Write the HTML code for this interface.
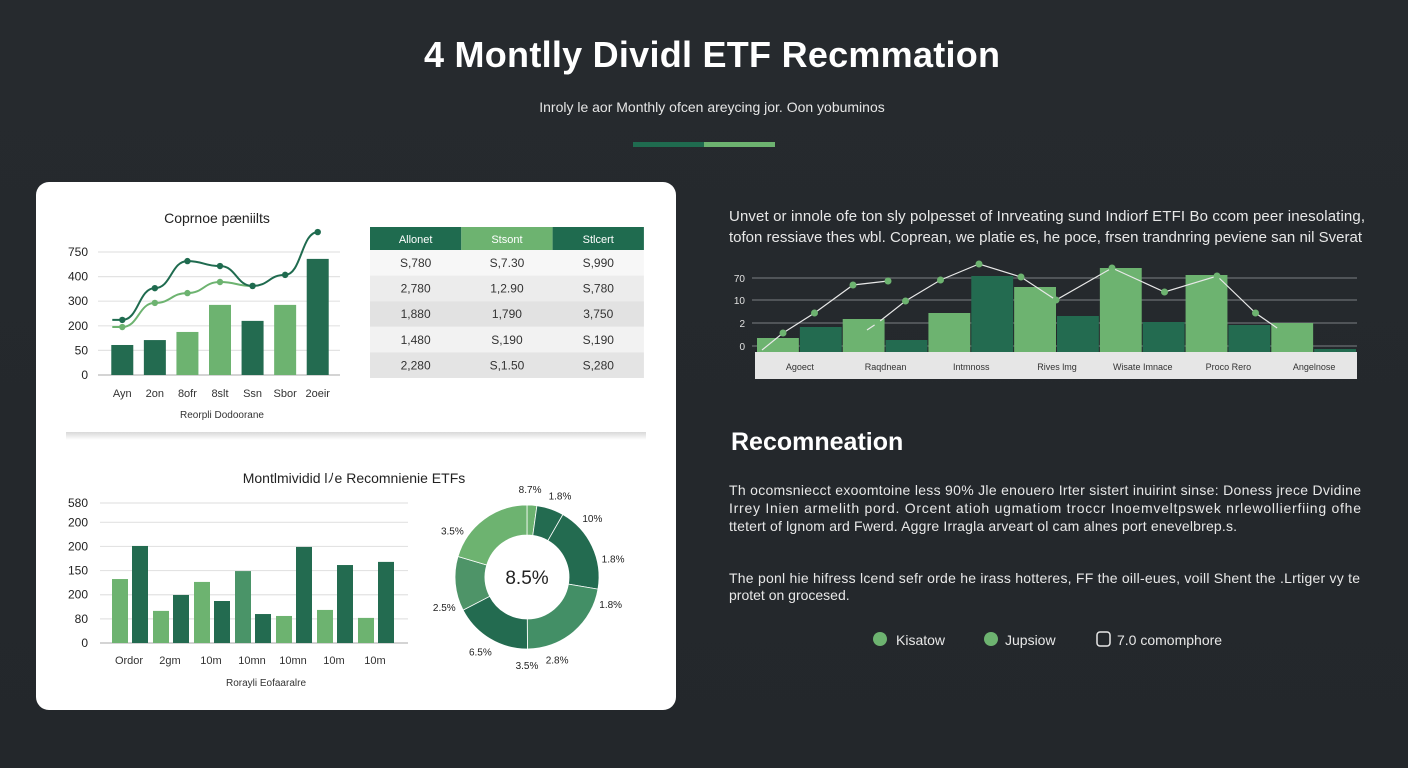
<!DOCTYPE html>
<html><head><meta charset="utf-8"><style>
html,body{margin:0;padding:0;background:#25292d;}
svg{display:block;font-family:"Liberation Sans",sans-serif;}
</style></head><body>
<svg id="s" width="1408" height="768" viewBox="0 0 1408 768">
<defs>
<linearGradient id="bg" x1="0" y1="0" x2="0" y2="1"><stop offset="0" stop-color="#262a2e"/><stop offset="1" stop-color="#23272b"/></linearGradient>
<linearGradient id="sh" x1="0" y1="0" x2="0" y2="1"><stop offset="0" stop-color="#d8d8d8"/><stop offset="1" stop-color="#ffffff"/></linearGradient>
</defs>
<rect width="1408" height="768" fill="url(#bg)"/>
<text x="712" y="67" text-anchor="middle" font-size="36" font-weight="bold" fill="#fff" textLength="576">4 Montlly Dividl ETF Recmmation</text>
<text x="712" y="112" text-anchor="middle" font-size="14" fill="#e6e6e6">Inroly le aor Monthly ofcen areycing jor. Oon yobuminos</text>
<rect x="633" y="142" width="71" height="5" fill="#1f6b4f"/>
<rect x="704" y="142" width="71" height="5" fill="#6db370"/>

<rect x="36" y="182" width="640" height="528" rx="13" fill="#fff"/>
<rect x="66" y="432" width="580" height="8" fill="url(#sh)"/>
<text x="217" y="223" text-anchor="middle" font-size="14" fill="#222">Coprnoe pæniilts</text>
<text x="222" y="418" text-anchor="middle" font-size="10" fill="#333">Reorpli Dodoorane</text>
<g id="c1"></g>
<g id="tbl"></g>
<text x="354" y="483" text-anchor="middle" font-size="14" fill="#222">Montlmividid lﾉe Recomnienie ETFs</text>
<text x="266" y="686" text-anchor="middle" font-size="10" fill="#333">Rorayli Eofaaralre</text>
<g id="c2"></g>
<g id="c3"></g>

<g font-size="15" fill="#e8e8e8">
<text x="729" y="221" textLength="636">Unvet or innole ofe ton sly polpesset of Inrveating sund Indiorf ETFI Bo ccom peer inesolating,</text>
<text x="729" y="242" textLength="633">tofon ressiave thes wbl. Coprean, we platie es, he poce, frsen trandnring peviene san nil Sverat</text>
</g>
<g id="c4"></g>
<text x="731" y="450" font-size="25" font-weight="bold" fill="#fff">Recomneation</text>
<g font-size="14" fill="#e8e8e8">
<text x="729" y="495" textLength="632">Th ocomsniecct exoomtoine less 90% Jle enouero Irter sistert inuirint sinse: Doness jrece Dvidine</text>
<text x="729" y="513" textLength="632">Irrey Inien armelith pord. Orcent atioh ugmatiom troccr Inoemveltpswek nrlewollierfiing ofhe</text>
<text x="729" y="531" textLength="508">ttetert of lgnom ard Fwerd. Aɡgre Irragla arveart ol cam alnes port enevelbrep.s.</text>
</g>
<g font-size="14" fill="#e8e8e8">
<text x="729" y="583" textLength="631">The ponl hie hifress lcend sefr orde he irass hotteres, FF the oill-eues, voill Shent the .Lrtiger vy te</text>
<text x="729" y="600">protet on grocesed.</text>
</g>
<g>
<circle cx="880" cy="639" r="7" fill="#6db370"/>
<text x="896" y="645" font-size="14" fill="#e8e8e8">Kisatow</text>
<circle cx="991" cy="639" r="7" fill="#6db370"/>
<text x="1005" y="645" font-size="14" fill="#e8e8e8">Jupsiow</text>
<rect x="1097" y="632" width="13" height="14" rx="3" fill="none" stroke="#e8e8e8" stroke-width="1.5"/>
<text x="1117" y="645" font-size="14" fill="#e8e8e8">7.0 comomphore</text>
</g>
</svg>
<script>
const NS="http://www.w3.org/2000/svg";
const DARK="#236b50", LIGHT="#6db370", MID="#3f8a63";
function mk(parent,tag,attrs){const e=document.createElementNS(NS,tag);for(const k in attrs)e.setAttribute(k,attrs[k]);parent.appendChild(e);return e;}

// ---------- Chart 1 data ----------
const c1Cats=["Ayn","2on","8ofr","8slt","Ssn","Sbor","2oeir"];
const c1Bars=[122,142,175,285,220,285,472];
const c1BarTone=["d","d","l","l","d","l","d"];
const c1LineDark=[224,353,463,443,362,407,581];
const c1LineLight=[195,293,333,378,362];
const c1TickVals=[0,100,200,300,400,500];
const c1TickLabels=["0","50","200","300","400","750"];

// ---------- Table data ----------
const tblHeaders=["Allonet","Stsont","Stlcert"];
const tblRows=[["S,780","S,7.30","S,990"],["2,780","1,2.90","S,780"],["1,880","1,790","3,750"],["1,480","S,190","S,190"],["2,280","S,1.50","S,280"]];

// ---------- Chart 2 data ----------
const c2Cats=["Ordor","2gm","10m","10mn","10mn","10m","10m"];
const c2Light=[265,133,253,298,112,137,104];
const c2Dark=[402,199,174,120,398,323,336];
const c2TickVals=[0,100,200,300,400,500,580];
const c2TickLabels=["0","80","200","150","200","200","580"];

// ---------- Donut data ----------
const donutVals=[2.2,6.1,19.4,22.2,17.5,12.2,20.4];
const donutTone=["l","d","d","m","d","m2","l"];
const donutLabels=["8.7%","1.8%","10%","1.8%","1.8%","2.8%","3.5%","6.5%","2.5%","3.5%"];
const donutLabelAngles=[2,22,48,78,108,160,180,212,250,302];

// ---------- Chart 3 data ----------
const c3Cats=["Agoect","Raqdnean","Intmnoss","Rives lmg","Wisate Imnace","Proco Rero","Angelnose"];
const c3Bars=[14,25,33,12,39,76,65,36,84,30,77,27,29,3];
const c3BarTone=["l","d","l","d","l","d","l","d","l","d","l","d","l","d"];
const c3LineAX=[0,0.6,1.5,2.6,3.6];
const c3LineAY=[2,19,39,67,71];
const c3LineBX=[3,3.3,4.1,5.1,6.2,7.4,8.4,10,11.5,13,14.1,14.8];
const c3LineBY=[22,29,51,72,88,75,52,84,60,76,39,22];
const c3TickVals=[6,29,52,74];
const c3TickLabels=["0","2","10","70"];

// ===== Chart 1 =====
(function(){
 const g=document.getElementById('c1');
 const x0=112,x1=340,yb=375,yt=252;
 const y=v=>yb-(v/500)*(yb-yt);
 const band=(x1-x0)/c1Cats.length;
 const xc=i=>x0+band*(i+0.5)-6;
 c1TickVals.forEach((t,i)=>{
  const l=mk(g,'line',{x1:98,x2:x1,y1:y(t),y2:y(t),stroke:i==0?'#bbb':'#e3e3e3','stroke-width':1.2});
  
  
  const tx=mk(g,'text',{x:88,y:y(t)+4,'text-anchor':'end','font-size':12,fill:'#222'});
  tx.textContent=c1TickLabels[i];
  
  
 });
 c1Bars.forEach((v,i)=>{
  const r=mk(g,'rect',{x:xc(i)-11,y:y(v),width:22,height:yb-y(v),fill:c1BarTone[i]=='d'?DARK:LIGHT});
  
  
  const tx=mk(g,'text',{x:xc(i),y:397,'text-anchor':'middle','font-size':11,fill:'#333'});
  tx.textContent=c1Cats[i];
  
  
 });
 function line(vals,color,name){
  const pts=vals.map((v,i)=>[xc(i),y(v)]);
  let d='M'+(pts[0][0]-10)+','+pts[0][1]+' L'+pts[0][0]+','+pts[0][1];
  for(let i=1;i<pts.length;i++){const p=pts[i-1],q=pts[i],mx=(p[0]+q[0])/2;d+=` C${mx},${p[1]} ${mx},${q[1]} ${q[0]},${q[1]}`;}
  const p=mk(g,'path',{d:d,fill:'none',stroke:color,'stroke-width':2});
  
  
  pts.forEach(q=>{const c=mk(g,'circle',{cx:q[0],cy:q[1],r:3.2,fill:color});
   
   });
 }
 line(c1LineLight,'#6db370','chart1-line-light');
 line(c1LineDark,'#1f6b4f','chart1-line-dark');
})();

// ===== Table =====
(function(){
 const g=document.getElementById('tbl');
 const x0=370,cw=91.3,hh=23,rh=25.6,y0=227;
 tblHeaders.forEach((h,i)=>{
  const r=mk(g,'rect',{x:x0+i*cw,y:y0,width:cw,height:hh,fill:i==1?'#6db370':'#1f6b4f'});
  
  
  const t=mk(g,'text',{x:x0+i*cw+cw/2,y:y0+16,'text-anchor':'middle','font-size':11,fill:'#fff'});
  t.textContent=h;
  
  
 });
 tblRows.forEach((row,ri)=>{
  const yy=y0+hh+ri*rh;
  const bg=mk(g,'rect',{x:x0,y:yy,width:cw*3,height:rh,fill:['#f7f7f7','#ececec','#e2e2e2','#f2f2f2','#e4e4e4'][ri]});
  
  
  row.forEach((c,ci)=>{
   const t=mk(g,'text',{x:x0+ci*cw+cw/2,y:yy+17,'text-anchor':'middle','font-size':12,fill:'#333'});
   t.textContent=c;
   
   
  });
 });
})();

// ===== Chart 2 =====
(function(){
 const g=document.getElementById('c2');
 const x0=106,yb=643,yt=503,band=41;
 const y=v=>yb-(v/580)*(yb-yt);
 c2TickVals.forEach((t,i)=>{
  const l=mk(g,'line',{x1:100,x2:408,y1:y(t),y2:y(t),stroke:i==0?'#bbb':'#e3e3e3','stroke-width':1.2});
  
  
  const tx=mk(g,'text',{x:88,y:y(t)+4,'text-anchor':'end','font-size':12,fill:'#222'});
  tx.textContent=c2TickLabels[i];
  
  
 });
 c2Cats.forEach((c,i)=>{
  const gx=x0+i*band;
  const r1=mk(g,'rect',{x:gx+6,y:y(c2Light[i]),width:16,height:yb-y(c2Light[i]),fill:i==3?'#4a9468':LIGHT});
  
  
  const r2=mk(g,'rect',{x:gx+26,y:y(c2Dark[i]),width:16,height:yb-y(c2Dark[i]),fill:DARK});
  
  
  const t=mk(g,'text',{x:gx+23,y:664,'text-anchor':'middle','font-size':11,fill:'#333'});
  t.textContent=c;
  
  
 });
})();

// ===== Donut =====
(function(){
 const g=document.getElementById('c3');
 const cx=527,cy=577,R=72,r=42;
 const total=donutVals.reduce((a,b)=>a+b,0);
 const col={l:'#6db370',d:'#236b50',m:'#438f66',m2:'#4e9468'};
 const pt=(a,rad)=>[cx+rad*Math.sin(a),cy-rad*Math.cos(a)];
 let a=0;
 donutVals.forEach((v,i)=>{
  const a2=a+v/total*2*Math.PI;
  const p1=pt(a,R),p2=pt(a2,R),p3=pt(a2,r),p4=pt(a,r);
  const lg=(a2-a)>Math.PI?1:0;
  const p=mk(g,'path',{d:`M${p1} A${R},${R} 0 ${lg} 1 ${p2} L${p3} A${r},${r} 0 ${lg} 0 ${p4}Z`,fill:col[donutTone[i]],stroke:'#fff','stroke-width':0.8});
  
  
  a=a2;
 });
 const c=mk(g,'text',{x:cx,y:cy+7,'text-anchor':'middle','font-size':19,fill:'#222'});
 c.textContent='8.5%';
 
 
 donutLabels.forEach((l,i)=>{
  const ang=donutLabelAngles[i]*Math.PI/180;
  const p=pt(ang,88);
  const t=mk(g,'text',{x:p[0],y:p[1]+4,'text-anchor':'middle','font-size':10,fill:'#222'});
  t.textContent=l;
  
  
 });
})();

// ===== Chart 3 =====
(function(){
 const g=document.getElementById('c4');
 const xl=757,xr=1357,yb=352,yt=278;
 const y=v=>yb-(v/74)*(yb-yt);
 const bw=(xr-xl)/c3Bars.length;
 const xs=v=>762+v*35;
 c3TickVals.forEach((t,i)=>{
  const l=mk(g,'line',{x1:752,x2:1357,y1:y(t),y2:y(t),stroke:'#6a6e72','stroke-width':1.2});
  
  
  const tx=mk(g,'text',{x:745,y:y(t)+4,'text-anchor':'end','font-size':10,fill:'#e0e0e0'});
  tx.textContent=c3TickLabels[i];
  
  
 });
 c3Bars.forEach((v,i)=>{
  const r=mk(g,'rect',{x:xl+i*bw,y:y(v),width:bw-1,height:yb-y(v),fill:c3BarTone[i]=='d'?DARK:LIGHT});
  
  
 });
 function line(xsArr,ys,name){
  const pts=xsArr.map((v,i)=>[xs(v),y(ys[i])]);
  const p=mk(g,'polyline',{points:pts.map(q=>q.join(',')).join(' '),fill:'none',stroke:'#e8e8e8','stroke-width':1.2});
  
  
  pts.slice(1).forEach(q=>{const c=mk(g,'circle',{cx:q[0],cy:q[1],r:3.5,fill:'#6db370'});
   
   });
 }
 line(c3LineAX,c3LineAY,'chart3-line-a');
 line(c3LineBX,c3LineBY,'chart3-line-b');
 const strip=mk(g,'rect',{x:755,y:352,width:602,height:27,fill:'#e6e6e6'});
 
 
 const cw=(xr-xl)/c3Cats.length;
 c3Cats.forEach((c,i)=>{
  const t=mk(g,'text',{x:xl+cw*(i+0.5),y:370,'text-anchor':'middle','font-size':9,fill:'#333'});
  t.textContent=c;
  
  
 });
})();
</script>
</body></html>
